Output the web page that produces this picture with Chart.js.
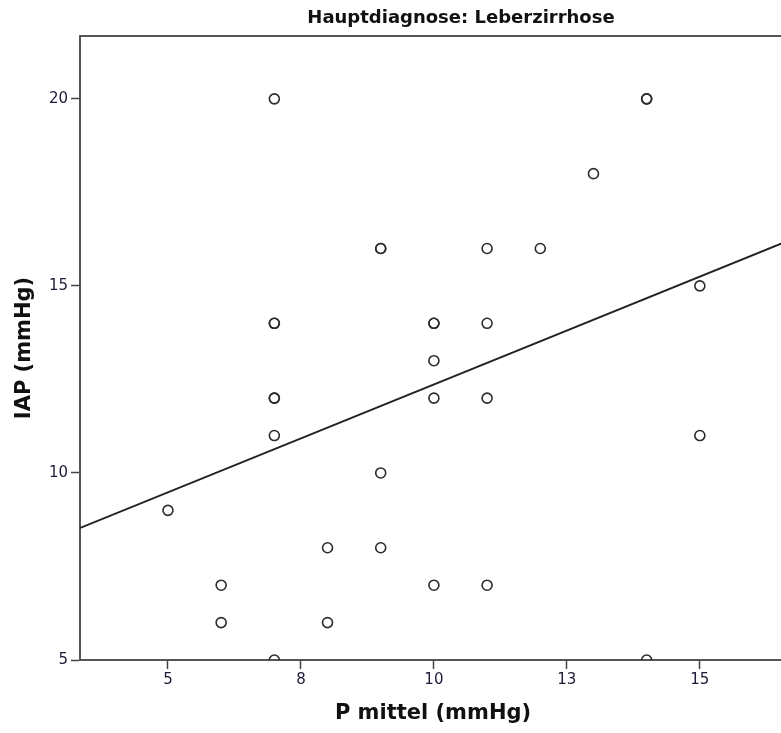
<!DOCTYPE html>
<html>
<head>
<meta charset="utf-8">
<script src="https://cdn.jsdelivr.net/npm/chart.js@4"></script>
<style>
  html, body { margin: 0; padding: 0; background: #fff; overflow: hidden; }
  #wrap { width: 781px; height: 733px; overflow: hidden; position: relative; }
  #box { width: 922px; height: 733px; }
</style>
</head>
<body>
<div id="wrap"><div id="box"><canvas id="chart"></canvas></div></div>
<script>
// P mittel (x) and IAP (y) per patient, repeated rows are real duplicates
const pMittel = [5, 6, 6, 7, 7, 7, 7, 7, 7, 7, 8, 8, 9, 9, 9, 9, 10, 10, 10, 10, 10,
                 11, 11, 11, 11, 12, 13, 14, 14, 14, 15, 15];
const iap     = [9, 7, 6, 20, 14, 14, 12, 12, 11, 5, 8, 6, 16, 16, 10, 8, 14, 14, 13, 12, 7,
                 16, 14, 12, 7, 16, 18, 20, 20, 5, 15, 11];

// linear fit line, end points
const fitX = [3.35, 16.62];
const fitY = [8.53, 16.18];

const xTickValues = [5, 7.5, 10, 12.5, 15];
const xTickLabels = ['5', '8', '10', '13', '15'];
const yTickValues = [5, 10, 15, 20];

const chartTitle = 'Hauptdiagnose: Leberzirrhose';

const INK = '#2b2b2b';
const TICK_INK = '#1c1c3a';
const FAMILY = '"DejaVu Sans", sans-serif';
const tickFont = { family: FAMILY, size: 15 };
const titleFont = { family: FAMILY, size: 21, weight: 'bold' };

// title centred over the whole canvas, above the framed plot
const topTitle = {
  id: 'topTitle',
  afterDraw(chart) {
    const c = chart.ctx;
    c.save();
    c.font = 'bold 18px ' + FAMILY;
    c.fillStyle = '#111';
    c.textAlign = 'center';
    c.textBaseline = 'middle';
    c.fillText(chartTitle, chart.width / 2, 18);
    c.restore();
  },
};

new Chart(document.getElementById('chart'), {
  data: {
    datasets: [
      {
        type: 'scatter',
        data: pMittel.map((x, i) => ({ x, y: iap[i] })),
        pointStyle: 'circle',
        pointRadius: 5,
        pointBorderWidth: 1.6,
        pointBorderColor: INK,
        pointBackgroundColor: 'rgba(0,0,0,0)',
        clip: 0,
        order: 2,
      },
      {
        type: 'line',
        data: fitX.map((x, i) => ({ x, y: fitY[i] })),
        borderColor: '#222',
        borderWidth: 2,
        pointRadius: 0,
        clip: 0,
        order: 1,
      },
    ],
  },
  plugins: [topTitle],
  options: {
    responsive: true,
    maintainAspectRatio: false,
    animation: false,
    layout: { padding: { left: 0, right: 136, top: 0, bottom: 0 } },
    plugins: {
      legend: { display: false },
      tooltip: { enabled: false },
      title: { display: false },
    },
    scales: {
      x: {
        type: 'linear',
        position: 'bottom',
        min: 3.346,
        max: 16.62,
        afterBuildTicks: s => { s.ticks = xTickValues.map(v => ({ value: v })); },
        afterFit: s => { s.height = 73; },
        ticks: {
          color: TICK_INK,
          font: tickFont,
          padding: 2,
          callback: (v) => xTickLabels[xTickValues.indexOf(v)],
        },
        grid: { display: true, drawOnChartArea: false, drawTicks: true, tickLength: 9, color: '#444', tickWidth: 1.5 },
        border: { display: true, color: '#555', width: 2 },
        title: { display: true, text: 'P mittel (mmHg)', color: '#111', font: titleFont, padding: { top: 0, bottom: 7 } },
      },
      xTop: {
        type: 'linear',
        position: 'top',
        min: 3.346,
        max: 16.62,
        afterFit: s => { s.height = 36; },
        ticks: { display: false },
        grid: { display: false },
        border: { display: true, color: '#555', width: 2 },
      },
      y: {
        type: 'linear',
        min: 5,
        max: 21.68,
        afterBuildTicks: s => { s.ticks = yTickValues.map(v => ({ value: v })); },
        afterFit: s => { s.width = 80; },
        ticks: { color: TICK_INK, font: tickFont, padding: 3 },
        grid: { display: true, drawOnChartArea: false, drawTicks: true, tickLength: 9, color: '#444', tickWidth: 1.5 },
        border: { display: true, color: '#555', width: 2 },
        title: { display: true, text: 'IAP (mmHg)', color: '#111', font: titleFont, padding: { top: 12, bottom: 0 } },
      },
    },
  },
});
</script>
</body>
</html>
